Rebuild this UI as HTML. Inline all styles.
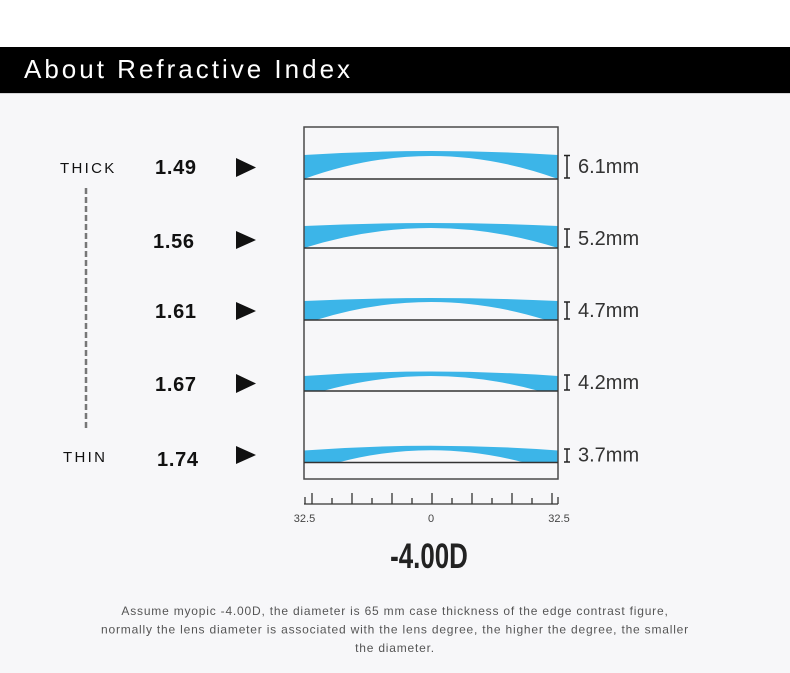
<!DOCTYPE html>
<html>
<head>
<meta charset="utf-8">
<style>
  html, body { margin: 0; padding: 0; }
  body { width: 790px; height: 673px; overflow: hidden; background: #f7f7f9; }
  svg { display: block; }
  text { font-family: "Liberation Sans", Arial, sans-serif; }
</style>
</head>
<body>
<svg width="790" height="673" viewBox="0 0 790 673" xmlns="http://www.w3.org/2000/svg">
  <!-- backgrounds -->
  <rect x="0" y="0" width="790" height="673" fill="#f7f7f9"/>
  <rect x="0" y="0" width="790" height="47" fill="#ffffff"/>
  <rect x="0" y="47" width="790" height="46" fill="#000000"/>
  <rect x="0" y="93" width="790" height="1" fill="#d4d4d6"/>
  <text x="24" y="78" font-size="26" fill="#ffffff" letter-spacing="3">About Refractive Index</text>

  <!-- left labels -->
  <text x="60" y="173" font-size="15" fill="#111" letter-spacing="2.3">THICK</text>
  <text x="63" y="462" font-size="15" fill="#111" letter-spacing="2.3">THIN</text>
  <line x1="86" y1="188" x2="86" y2="429" stroke="#777" stroke-width="2.5" stroke-dasharray="6,3"/>

  <g font-size="20" font-weight="bold" fill="#111" letter-spacing="0.7">
    <text x="155" y="174">1.49</text>
    <text x="153" y="248">1.56</text>
    <text x="155" y="318">1.61</text>
    <text x="155" y="391">1.67</text>
    <text x="157" y="466">1.74</text>
  </g>

  <g fill="#111">
    <polygon points="236,158 256,167.5 236,177"/>
    <polygon points="236,231 256,240 236,249"/>
    <polygon points="236,302 256,311 236,320"/>
    <polygon points="236,374 256,383.5 236,393"/>
    <polygon points="236,446 256,455 236,464"/>
  </g>

  <!-- lenses -->
  <g fill="#3cb5e8">
    <path d="M304,155 Q431,147 558,155 L558,179 Q431,133 304,179 Z"/>
    <path d="M304,226 Q431,220 558,226 L558,248 Q431,208 304,248 Z"/>
    <path d="M304,301 Q431,295 558,301 L558,320 L546,320 Q431,284 316,320 L304,320 Z"/>
    <path d="M304,376 Q431,367 558,376 L558,391 L539,391 Q431,361 323,391 L304,391 Z"/>
    <path d="M304,450.5 Q431,441 558,450.5 L558,462.5 L524,462.5 Q431,438 338,462.5 L304,462.5 Z"/>
  </g>

  <!-- box and lines -->
  <rect x="304" y="127" width="254" height="352" fill="none" stroke="#4a4a4a" stroke-width="1.5"/>
  <g stroke="#333" stroke-width="1.5">
    <line x1="304" y1="179" x2="558" y2="179"/>
    <line x1="304" y1="248" x2="558" y2="248"/>
    <line x1="304" y1="320" x2="558" y2="320"/>
    <line x1="304" y1="391" x2="558" y2="391"/>
    <line x1="304" y1="462.5" x2="558" y2="462.5"/>
  </g>

  <!-- I bars -->
  <g stroke="#222" stroke-width="1.5" fill="none">
    <path d="M567,155.5 V178 M564,155.5 H570 M564,178 H570"/>
    <path d="M567,229 V247 M564,229 H570 M564,247 H570"/>
    <path d="M567,302 V319 M564,302 H570 M564,319 H570"/>
    <path d="M567,375 V390 M564,375 H570 M564,390 H570"/>
    <path d="M567,449 V462 M564,449 H570 M564,462 H570"/>
  </g>
  <g font-size="20" fill="#333">
    <text x="578" y="173">6.1mm</text>
    <text x="578" y="245">5.2mm</text>
    <text x="578" y="317">4.7mm</text>
    <text x="578" y="389">4.2mm</text>
    <text x="578" y="461.5">3.7mm</text>
  </g>

  <!-- ruler -->
  <g stroke="#333" stroke-width="1.3">
    <line x1="304" y1="504" x2="558" y2="504"/>
    <line x1="305" y1="497" x2="305" y2="504"/>
    <line x1="558" y1="497" x2="558" y2="504"/>
    <line x1="312" y1="493" x2="312" y2="504"/>
    <line x1="352" y1="493" x2="352" y2="504"/>
    <line x1="392" y1="493" x2="392" y2="504"/>
    <line x1="432" y1="493" x2="432" y2="504"/>
    <line x1="472" y1="493" x2="472" y2="504"/>
    <line x1="512" y1="493" x2="512" y2="504"/>
    <line x1="552" y1="493" x2="552" y2="504"/>
    <line x1="332" y1="498" x2="332" y2="504"/>
    <line x1="372" y1="498" x2="372" y2="504"/>
    <line x1="412" y1="498" x2="412" y2="504"/>
    <line x1="452" y1="498" x2="452" y2="504"/>
    <line x1="492" y1="498" x2="492" y2="504"/>
    <line x1="532" y1="498" x2="532" y2="504"/>
  </g>
  <g font-size="11" fill="#444" text-anchor="middle">
    <text x="304.5" y="522">32.5</text>
    <text x="431" y="522">0</text>
    <text x="559" y="522">32.5</text>
  </g>

  <text x="0" y="0" font-size="35" font-weight="bold" fill="#222" text-anchor="middle" transform="translate(429,568) scale(0.74,1)">-4.00D</text>

  <!-- caption -->
  <g font-size="12" fill="#555" text-anchor="middle" letter-spacing="0.8">
    <text x="395" y="615">Assume myopic -4.00D, the diameter is 65 mm case thickness of the edge contrast figure,</text>
    <text x="395" y="633.5">normally the lens diameter is associated with the lens degree, the higher the degree, the smaller</text>
    <text x="395" y="652">the diameter.</text>
  </g>
</svg>
</body>
</html>
